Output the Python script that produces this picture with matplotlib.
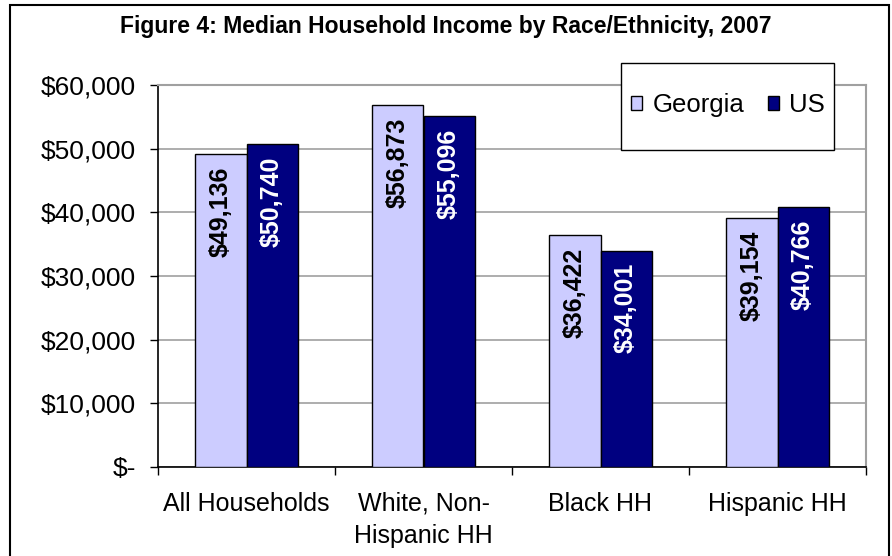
import numpy as np
import matplotlib.pyplot as plt
from matplotlib.patches import Rectangle, Patch

plt.rcParams['font.family'] = ['Liberation Sans', 'DejaVu Sans']

# median household income, 2007
groups = ['All Households', 'White, Non-\nHispanic HH', 'Black HH', 'Hispanic HH']
georgia = [49136, 56873, 36422, 39154]
us = [50740, 55096, 34001, 40766]
series_names = ['Georgia', 'US']
yticks = [0, 10000, 20000, 30000, 40000, 50000, 60000]
ytick_labels = ['$-', '$10,000', '$20,000', '$30,000', '$40,000', '$50,000', '$60,000']

light = '#CCCCFF'
navy = '#000080'
grid_grey = '#A0A0A0'

fig = plt.figure(figsize=(8.92, 5.56), dpi=100)
ax = fig.add_axes([158 / 892, 1 - 467 / 556, 708 / 892, 382 / 556])

x = np.arange(len(groups))
w = 0.29
b1 = ax.bar(x - w / 2, georgia, w, color=light, edgecolor='black', linewidth=1.0, zorder=3)
b2 = ax.bar(x + w / 2, us, w, color=navy, edgecolor='black', linewidth=1.0, zorder=3)

# value labels written vertically just under each bar top
for bars, vals, col in [(b1, georgia, 'black'), (b2, us, 'white')]:
    for bar, v in zip(bars, vals):
        ax.annotate(f'${v:,}', (bar.get_x() + bar.get_width() / 2, v),
                    xytext=(0, -9), textcoords='offset points',
                    rotation=90, ha='center', va='top', fontsize=18,
                    fontweight='bold', color=col, zorder=4)

ax.set_xlim(-0.5, len(groups) - 0.5)
ax.set_ylim(0, 60000)
ax.set_yticks(yticks)
ax.set_yticklabels(ytick_labels, fontsize=19)
ax.set_xticks(x)
ax.set_xticklabels(groups, fontsize=18, linespacing=1.4)
ax.set_xticks(np.arange(len(groups) + 1) - 0.5, minor=True)
ax.tick_params(axis='x', which='major', length=0, pad=18)
ax.tick_params(axis='x', which='minor', length=6, width=1, direction='out')
ax.tick_params(axis='y', length=6, width=1, direction='out', pad=10)

ax.grid(axis='y', color=grid_grey, linewidth=1.2, zorder=0)
for side in ['top', 'right']:
    ax.spines[side].set_color(grid_grey)
    ax.spines[side].set_linewidth(1.5)
for side in ['left', 'bottom']:
    ax.spines[side].set_color('black')
    ax.spines[side].set_linewidth(1.2)

# legend box drawn by hand so its padding can differ per direction
ax.add_patch(Rectangle(((621 - 158) / 708, (467 - 150) / 382), 213 / 708, 87 / 382,
                       transform=ax.transAxes, facecolor='white', edgecolor='black',
                       linewidth=1.0, clip_on=False, zorder=5))
handles = [Patch(facecolor=light, edgecolor='black', linewidth=1.0),
           Patch(facecolor=navy, edgecolor='black', linewidth=1.0)]
leg = ax.legend(handles, series_names, loc='center', ncol=2, frameon=False,
                bbox_to_anchor=((728 - 158) / 708, (467 - 105) / 382),
                fontsize=18.5, handlelength=0.44, handleheight=0.44,
                handletextpad=0.4, columnspacing=0.9, borderpad=0)
leg.set_zorder(6)

fig.text(0.5, 1 - 27 / 556, 'Figure 4: Median Household Income by Race/Ethnicity, 2007',
         ha='center', va='center', fontsize=16.5, fontweight='bold')

# outer chart border
fig.add_artist(Rectangle((10 / 892, -0.05), 879 / 892, 1 - 5 / 556 + 0.05,
                         transform=fig.transFigure, facecolor='none',
                         edgecolor='black', linewidth=1.5, clip_on=False))

fig.savefig('out.png', dpi=100)
